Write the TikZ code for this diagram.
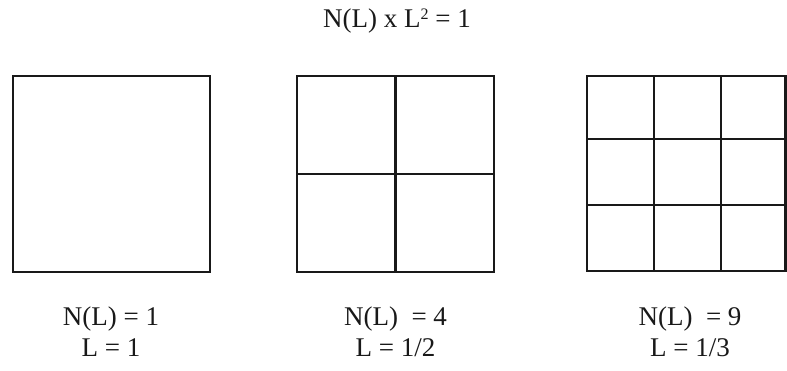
\documentclass[tikz,border=0pt]{standalone}
\usepackage{fontspec}
\setmainfont{Liberation Serif}
\begin{document}
\begin{tikzpicture}[x=1pt,y=1pt,
  gridline/.style={line width=2.4pt, line join=miter, black!90},
  lbl/.style={font=\fontsize{27}{32}\selectfont, anchor=base, inner sep=0pt, text=black!90}]
\useasboundingbox (0,0) rectangle (787,370);
% box 1
\draw[gridline] (13,98) rectangle (210,294);
% box 2
\draw[gridline] (297,98) rectangle (494,294);
\draw[gridline] (395.5,98) -- (395.5,294);
\draw[gridline] (297,196) -- (494,196);
% box 3
\draw[gridline] (587,99) rectangle (785.5,294);
\draw[gridline] (654,99) -- (654,294);
\draw[gridline] (721,99) -- (721,294);
\draw[gridline] (587,231) -- (785.5,231);
\draw[gridline] (587,165) -- (785.5,165);
% texts
\node[lbl] (title) at (397,342) {N(L) x L{\fontsize{16}{16}\selectfont\raisebox{0.55em}{2}} = 1};
\node[lbl] (n1) at (111,45) {N(L) = 1};
\node[lbl] (l1) at (111,14) {L = 1};
\node[lbl] (n2) at (395.5,45) {N(L)\ \ = 4};
\node[lbl] (l2) at (395.5,14) {L = 1/2};
\node[lbl] (n3) at (690,45) {N(L)\ \ = 9};
\node[lbl] (l3) at (690,14) {L = 1/3};
\end{tikzpicture}
\end{document}
